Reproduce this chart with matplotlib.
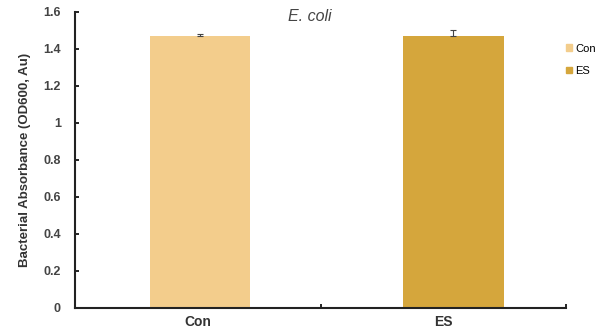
import numpy as np
import matplotlib.pyplot as plt
from matplotlib.patches import Patch

# dados
grupos = ["Con", "ES"]
absorbancia = [1.47, 1.47]
erro = [0.01, 0.03]
cores = ["#F3CD8C", "#D5A63C"]

plt.rcParams["font.family"] = ["Liberation Sans", "DejaVu Sans"]

fig = plt.figure(figsize=(5.98, 3.35), dpi=100)
ax = fig.add_axes([0.125, 0.081, 0.822, 0.884])

x = np.array([0.01, 1.04])
ax.bar(x, absorbancia, width=0.41, color=cores, zorder=2)
ax.errorbar(x, absorbancia, yerr=[[0, 0], erro], fmt="none", ecolor="#444444",
            elinewidth=0.8, capsize=2, capthick=0.8, zorder=3)

ax.set_xlim(-0.5, 1.5)
ax.set_ylim(0, 1.6)
ax.set_yticks(np.arange(0, 1.61, 0.2))
ax.set_yticklabels(["0", "0.2", "0.4", "0.6", "0.8", "1", "1.2", "1.4", "1.6"])
ax.set_xticks([0, 1])
ax.set_xticklabels(grupos, fontweight="bold", fontsize=10, color="#333333")
ax.set_xticks([-0.5, 0.5, 1.5], minor=True)
ax.tick_params(axis="x", which="major", length=0, pad=5)
ax.tick_params(axis="x", which="minor", direction="in", length=3, width=1.2)
ax.tick_params(axis="y", direction="in", length=3, width=1.2, labelsize=9,
               labelcolor="#444444", pad=10)
for t in ax.get_yticklabels():
    t.set_fontweight("bold")

for s in ["top", "right"]:
    ax.spines[s].set_visible(False)
for s in ["left", "bottom"]:
    ax.spines[s].set_linewidth(1.5)
    ax.spines[s].set_color("#222222")

ax.set_ylabel("Bacterial Absorbance (OD600, Au)", fontsize=9.5, fontweight="bold",
              color="#333333", labelpad=9)
fig.text(0.518, 0.952, "E. coli", style="italic", fontsize=11.5, color="#444444",
         ha="center", va="center")

handles = [Patch(color=c) for c in cores]
fig.legend(handles=handles, labels=grupos, loc="upper left", bbox_to_anchor=(0.93, 0.9),
           frameon=False, fontsize=8, handlelength=0.5, handleheight=0.5,
           handletextpad=0.3, labelspacing=1.1)

fig.savefig("out.png", dpi=100)
